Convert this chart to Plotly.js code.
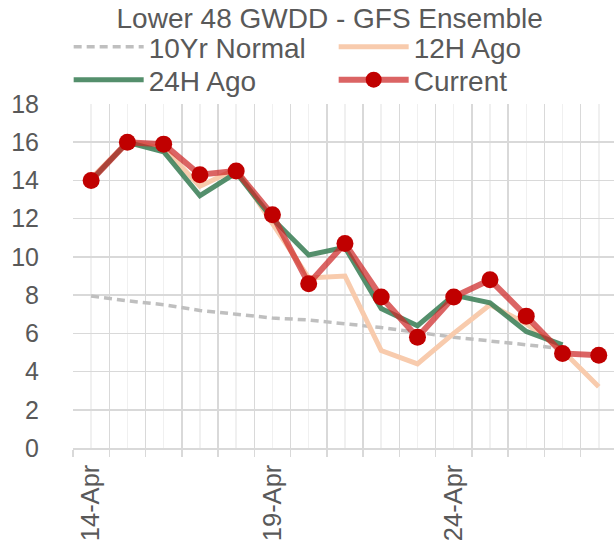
<!DOCTYPE html>
<html>
<head>
<meta charset="utf-8">
<script src="https://cdn.plot.ly/plotly-3.0.1.min.js"></script>
<style>html,body{margin:0;padding:0;background:#fff;}#chart{width:614px;height:548px;}</style>
</head>
<body>
<div id="chart"></div>
<script>
const dates = ["14-Apr","15-Apr","16-Apr","17-Apr","18-Apr","19-Apr","20-Apr","21-Apr","22-Apr","23-Apr","24-Apr","25-Apr","26-Apr","27-Apr","28-Apr"];
const tickLabels = ["14-Apr","","","","","19-Apr","","","","","24-Apr","","","",""];
const normal10yr = [7.95, 7.7, 7.5, 7.2, 7.0, 6.8, 6.7, 6.5, 6.3, 6.05, 5.8, 5.6, 5.4, 5.2];
const ago12h = [14.1, 16.0, 15.7, 13.7, 14.6, 11.8, 8.9, 9.0, 5.1, 4.4, 6.0, 7.5, 6.5, 5.1, 3.2];
const ago24h = [14.0, 16.0, 15.5, 13.2, 14.4, 12.0, 10.1, 10.5, 7.3, 6.4, 8.0, 7.6, 6.1, 5.4];
const current = [14.0, 16.0, 15.9, 14.3, 14.5, 12.2, 8.6, 10.7, 7.9, 5.8, 7.9, 8.8, 6.9, 4.95, 4.85];

const idx = a => a.map((_, i) => i);
const FONT = '"Liberation Sans", Arial, sans-serif';
const TXT = '#595959';

const traces = [
  {x: idx(normal10yr), y: normal10yr, name: '10Yr Normal', mode: 'lines', legend: 'legend',
   line: {color: '#bfbfbf', width: 3.5, dash: '8px,5px'}},
  {x: idx(ago12h), y: ago12h, name: '12H Ago', mode: 'lines', legend: 'legend',
   line: {color: '#f8cbad', width: 5}},
  {x: idx(ago24h), y: ago24h, name: '24H Ago', mode: 'lines', legend: 'legend2',
   line: {color: 'rgba(60,128,88,0.88)', width: 5}},
  {x: idx(current), y: current, name: 'Current', mode: 'lines+markers', legend: 'legend2',
   line: {color: 'rgba(205,40,40,0.72)', width: 6},
   marker: {color: '#c00000', size: 17}}
];

const legendBase = {orientation: 'h', x: -0.008, xanchor: 'left', yanchor: 'middle',
  entrywidth: 180, entrywidthmode: 'pixels', itemwidth: 70,
  font: {family: FONT, size: 28, color: TXT}, bgcolor: 'rgba(0,0,0,0)'};

const layout = {
  width: 614, height: 548,
  margin: {l: 72.5, r: 0, t: 104, b: 100, pad: 0},
  paper_bgcolor: '#ffffff', plot_bgcolor: '#ffffff',
  font: {family: FONT, color: TXT, size: 25},
  title: {text: 'Lower 48 GWDD - GFS Ensemble', font: {family: FONT, size: 28, color: TXT},
          xref: 'container', x: 0.537, xanchor: 'center', yref: 'container', y: 1 - 18/548, yanchor: 'middle'},
  showlegend: true,
  legend: Object.assign({}, legendBase, {y: 1 + (104 - 47) / 344}),
  legend2: Object.assign({}, legendBase, {y: 1 + (104 - 80) / 344}),
  xaxis: {
    range: [-0.5, 14.42], tickmode: 'array', tickvals: idx(dates), ticktext: tickLabels,
    tickangle: -90, showgrid: true, gridcolor: '#f0f0f0', gridwidth: 1.5, ticks: '',
    showline: true, linecolor: '#d9d9d9', linewidth: 1.5, zeroline: false, automargin: false,
    ticklabelstandoff: 5, tickfont: {family: FONT, size: 25.5, color: TXT},
    minor: {tickmode: 'linear', tick0: -0.5, dtick: 1, showgrid: true, gridcolor: '#d9d9d9', gridwidth: 1.5,
            ticks: 'outside', ticklen: 7, tickcolor: '#d9d9d9', tickwidth: 1.5},
    fixedrange: true
  },
  yaxis: {
    range: [0, 18], tickmode: 'linear', tick0: 0, dtick: 2, showgrid: true, gridcolor: '#d9d9d9', gridwidth: 1.5,
    zeroline: false, showline: false, ticks: '', automargin: false, ticklabelstandoff: 33,
    tickfont: {family: FONT, size: 25, color: TXT}, fixedrange: true
  }
};

Plotly.newPlot('chart', traces, layout, {displayModeBar: false, staticPlot: true});
</script>
</body>
</html>
